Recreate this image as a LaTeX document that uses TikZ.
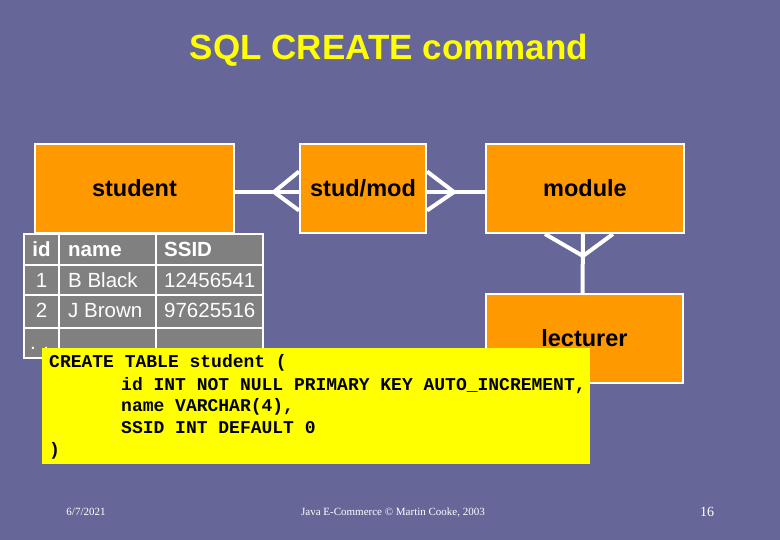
\documentclass[tikz,border=0pt]{standalone}
\usepackage{fontspec}
\setmainfont{Liberation Sans}
\newfontfamily\codefont{Liberation Mono}
\newfontfamily\footfont{Liberation Serif}
\definecolor{bg}{HTML}{666699}
\definecolor{orng}{HTML}{FF9900}
\definecolor{ylw}{HTML}{FFFF00}
\definecolor{tgray}{HTML}{808080}
\tikzset{
  entity/.style={draw=white, line width=2pt, fill=orng, minimum height=89pt, inner sep=0pt,
    text height=17pt, text depth=0pt, font=\fontsize{23.5}{28}\selectfont\bfseries, text=black},
  conn/.style={draw=white, line width=4pt},
  cell/.style={anchor=base west, inner sep=0pt, text=white, font=\fontsize{20.5}{24}\selectfont},
  hcell/.style={cell, font=\fontsize{20.5}{24}\selectfont\bfseries},
  code/.style={anchor=base west, inner sep=0pt, text=black, font=\codefont\bfseries\fontsize{18}{21}\selectfont},
  foot/.style={anchor=base, inner sep=0pt, text=white, font=\footfont\fontsize{11}{13}\selectfont},
}
\begin{document}
\begin{tikzpicture}[x=1pt,y=-1pt]
\fill[bg] (0,0) rectangle (780,540);
\useasboundingbox (0,0) rectangle (780,540);

\node[anchor=base, inner sep=0pt, text=ylw, font=\fontsize{35}{42}\selectfont\bfseries] (title) at (389,59.5) {SQL CREATE command};

% entities
\node[entity, minimum width=199pt] (student) at (134.5,188.5) {student};
\node[entity, minimum width=126pt] (studmod) at (363,188.5) {stud/mod};
\node[entity, minimum width=198pt] (module) at (585,188.5) {module};
\node[entity, minimum width=197pt] (lecturer) at (584.5,338.5) {lecturer};

% connectors
\draw[conn] ([yshift=-3.5pt]student.east) -- ([yshift=-3.5pt]studmod.west);
\draw[conn] ([yshift=17pt]studmod.west) -- ([xshift=-25pt,yshift=-3.5pt]studmod.west) -- ([yshift=-22pt]studmod.west);
\draw[conn] ([yshift=-3.5pt]studmod.east) -- ([yshift=-3.5pt]module.west);
\draw[conn] ([yshift=17pt]studmod.east) -- ([xshift=27pt,yshift=-3.5pt]studmod.east) -- ([yshift=-22pt]studmod.east);
\draw[conn] ([xshift=-2pt]module.south) -- ([xshift=-2pt]lecturer.north);
\draw[conn] ([xshift=-40pt]module.south) -- ([xshift=-2pt,yshift=-22pt]module.south) -- ([xshift=28pt]module.south);

% table
\fill[tgray] (24,234) rectangle (263,358);
\draw[white, line width=2pt] (24,234) rectangle (263,358);
\draw[white, line width=2pt] (59,234) -- (59,358) (156,234) -- (156,358)
  (24,265) -- (263,265) (24,295) -- (263,295) (24,328) -- (263,328);
\node[hcell, anchor=base] (h1) at (41.5,257) {id};
\node[hcell] (h2) at (68,257) {name};
\node[hcell] (h3) at (164,257) {SSID};
\node[cell, anchor=base] (a1) at (41.5,288) {1};
\node[cell] (a2) at (68,288) {B Black};
\node[cell] (a3) at (164,288) {12456541};
\node[cell, anchor=base] (b1) at (41.5,318) {2};
\node[cell] (b2) at (68,318) {J Brown};
\node[cell] (b3) at (164,318) {97625516};
\node[cell] (c1) at (30,350) {. .};

% code box
\node[fill=ylw, minimum width=548pt, minimum height=116pt, anchor=north west, inner sep=0pt] (codebox) at (42,348) {};
\node[code] (l1) at (49,368) {CREATE TABLE student (};
\node[code] (l2) at (121,390) {id INT NOT NULL PRIMARY KEY AUTO\_INCREMENT,};
\node[code] (l3) at (121,411) {name VARCHAR(4),};
\node[code] (l4) at (121,433) {SSID INT DEFAULT 0};
\node[code] (l5) at (49,455) {)};

% footer
\node[foot] (date) at (86,515) {6/7/2021};
\node[foot] (copy) at (393,515) {Java E-Commerce © Martin Cooke, 2003};
\node[foot, font=\footfont\fontsize{14}{16}\selectfont] (page) at (707,516) {16};
\end{tikzpicture}
\end{document}
